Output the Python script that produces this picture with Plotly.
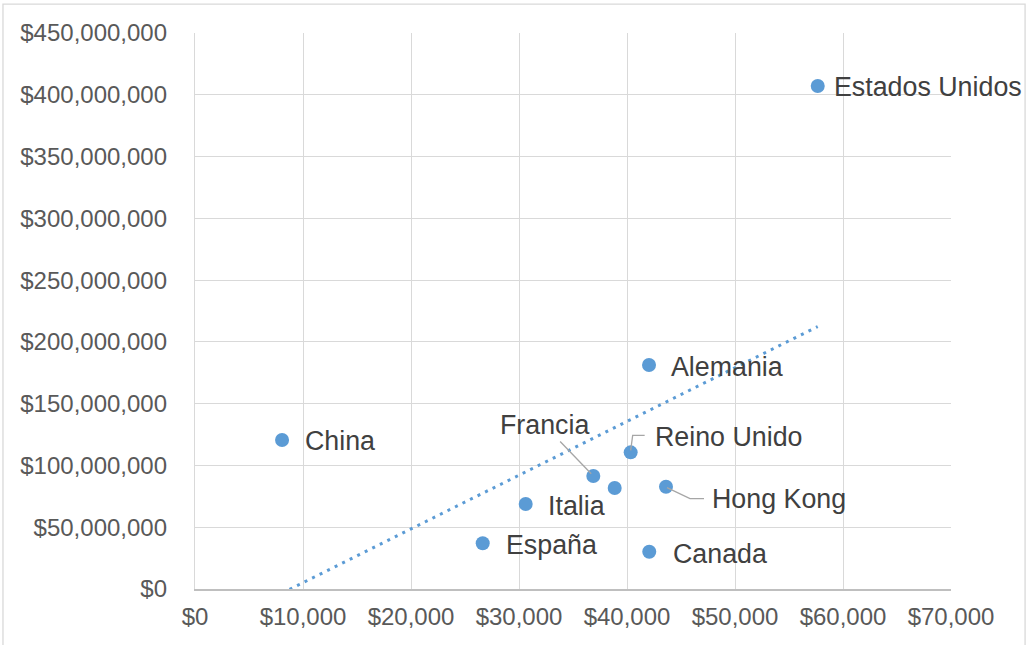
import numpy as np
import plotly.graph_objects as go

# Data (GDP per capita in USD vs value in USD)
countries = ["Estados Unidos", "China", "Alemania", "Reino Unido", "Francia",
             "Japón", "Hong Kong", "Italia", "España", "Canada"]
gdp_pc = [57660, 8060, 42040, 40340, 36880, 38860, 43610, 30620, 26640, 42060]
values = [407.1e6, 120.6e6, 181.3e6, 110.6e6, 91.5e6, 81.7e6, 82.8e6, 68.8e6, 37.0e6, 30.2e6]
labels = ["Estados Unidos", "China", "Alemania", "Reino Unido", "Francia",
          "", "Hong Kong", "Italia", "España", "Canada"]

x_ticks = list(range(0, 70001, 10000))
y_ticks = list(range(0, 450000001, 50000000))

BLUE = "#5B9BD5"
FONT = "Liberation Sans, Arial, sans-serif"

fig = go.Figure()

# Linear trendline computed from the data
slope, intercept = np.polyfit(gdp_pc, values, 1)
tx = np.array([min(gdp_pc), max(gdp_pc)])
fig.add_trace(go.Scatter(x=tx, y=slope * tx + intercept, mode="lines",
                         line=dict(color=BLUE, width=3, dash="3px,5.4px"),
                         hoverinfo="skip", showlegend=False))

fig.add_trace(go.Scatter(x=gdp_pc, y=values, mode="markers",
                         marker=dict(color=BLUE, size=14),
                         text=countries, showlegend=False))

# label placement offsets (pixels): xshift, yshift
offsets = {
    "Estados Unidos": (14, -1),
    "China": (21, -1),
    "Alemania": (20, -2),
    "Italia": (20, -2),
    "España": (21, -2),
    "Canada": (22, -2),
    "Reino Unido": (22, 15),
    "Hong Kong": (44, -12),
}
lab_font = dict(family=FONT, size=26.8, color="#404040")
for xv, yv, lab in zip(gdp_pc, values, labels):
    if not lab:
        continue
    if lab == "Francia":
        fig.add_annotation(x=xv, y=yv, text=lab, showarrow=True, arrowhead=0,
                           arrowcolor="#A6A6A6", arrowwidth=1.3, ax=-49, ay=-51,
                           standoff=3, font=lab_font)
        continue
    dx, dy = offsets[lab]
    fig.add_annotation(x=xv, y=yv, text=lab, showarrow=False, xanchor="left",
                       yanchor="middle", xshift=dx, yshift=dy, font=lab_font)

# Elbow leader lines
leaders = {
    "Reino Unido": "M 0,2 L 2,17 L 14,17",
    "Hong Kong": "M 1,-1 L 24,-12 L 38,-12",
}
for xv, yv, lab in zip(gdp_pc, values, labels):
    if lab in leaders:
        fig.add_shape(type="path", xref="x", yref="y", xsizemode="pixel", ysizemode="pixel",
                      xanchor=xv, yanchor=yv, path=leaders[lab],
                      line=dict(color="#A6A6A6", width=1.3))

# Chart outer border
fig.add_shape(type="rect", xref="paper", yref="paper", x0=-0.254, x1=1.098,
              y0=-0.11, y1=1.052, line=dict(color="#D9D9D9", width=1.3),
              fillcolor="rgba(0,0,0,0)", layer="below")

fig.update_layout(
    width=1027, height=645,
    margin=dict(l=195, r=76, t=33, b=56),
    paper_bgcolor="white", plot_bgcolor="white",
    font=dict(family=FONT, color="#595959"),
    xaxis=dict(range=[0, 70000], tickvals=x_ticks,
               ticktext=[f"${v:,}" for v in x_ticks],
               showgrid=True, gridcolor="#D9D9D9", gridwidth=1.3,
               zeroline=False, showline=True, linecolor="#BFBFBF", linewidth=1.5,
               tickfont=dict(size=24, color="#595959"), ticks="",
               ticklabelstandoff=5),
    yaxis=dict(range=[0, 450000000], tickvals=y_ticks,
               ticktext=[f"${v:,}" for v in y_ticks],
               showgrid=True, gridcolor="#D9D9D9", gridwidth=1.3,
               zeroline=False, showline=True, linecolor="#D9D9D9", linewidth=1.3,
               tickfont=dict(size=24, color="#595959"), ticks="",
               ticklabelstandoff=22),
)

fig.write_html("out.html", config={"displayModeBar": False},
               post_script="document.body.style.margin='0';document.body.style.overflow='hidden';")
